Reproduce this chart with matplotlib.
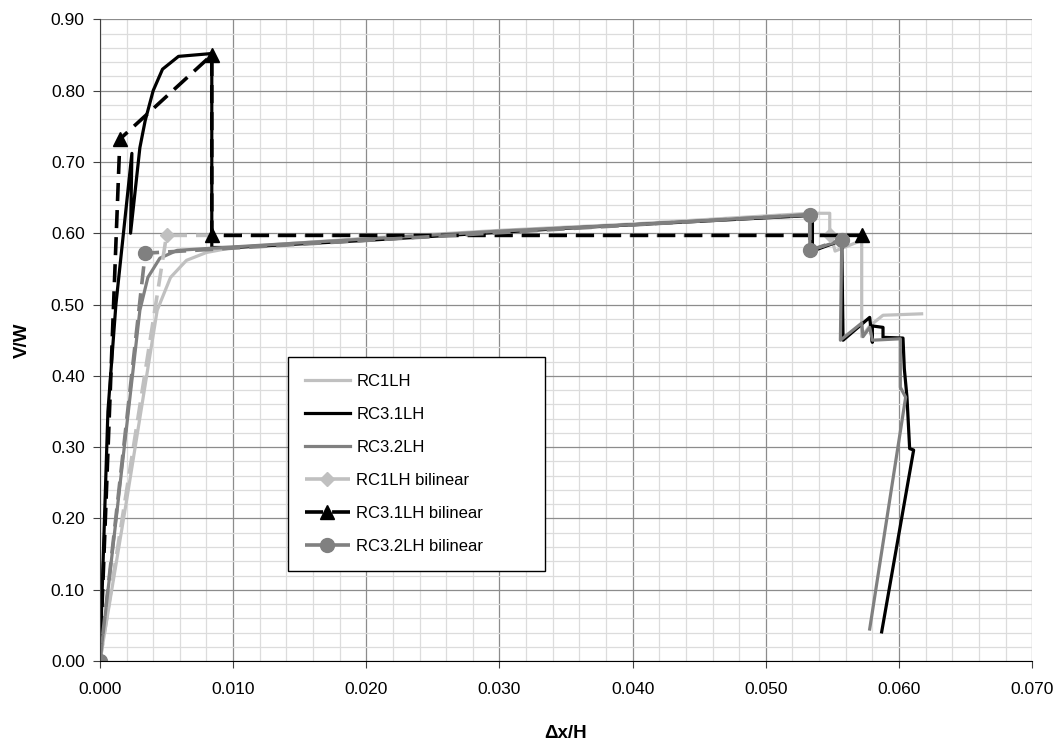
import numpy as np
import matplotlib
matplotlib.use("Agg")
import matplotlib.pyplot as plt
from matplotlib.ticker import MultipleLocator, FormatStrFormatter

plt.rcParams["font.family"] = ["Liberation Sans", "DejaVu Sans"]

# =========================
# data
# =========================
rc1_x = [0.0, 0.0020, 0.0043, 0.0053, 0.0065, 0.0080, 0.0100, 0.0200, 0.0300,
         0.0400, 0.0533, 0.0548, 0.0548, 0.0552, 0.0572, 0.0572, 0.0578,
         0.0588, 0.0617]
rc1_y = [0.0, 0.225, 0.492, 0.538, 0.562, 0.573, 0.580, 0.593, 0.604,
         0.613, 0.628, 0.628, 0.604, 0.575, 0.590, 0.455, 0.470,
         0.485, 0.487]

rc31_x = [0.0, 0.0006, 0.0012, 0.0024, 0.0023, 0.0030, 0.0034, 0.0040, 0.0047,
          0.0059, 0.0084, 0.0084, 0.0100, 0.0200, 0.0350, 0.0535, 0.0535,
          0.0557, 0.0558, 0.0578, 0.0580, 0.0580, 0.0588, 0.0588, 0.0603,
          0.0604, 0.0606, 0.0608, 0.0611, 0.0587]
rc31_y = [0.0, 0.350, 0.500, 0.712, 0.600, 0.720, 0.758, 0.800, 0.830,
          0.848, 0.852, 0.580, 0.580, 0.590, 0.607, 0.625, 0.575,
          0.590, 0.450, 0.482, 0.447, 0.470, 0.468, 0.454, 0.453,
          0.410, 0.370, 0.298, 0.296, 0.041]

rc32_x = [0.0, 0.0030, 0.0036, 0.0045, 0.0058, 0.0084, 0.0200, 0.0300, 0.0400,
          0.0533, 0.0533, 0.0557, 0.0556, 0.0572, 0.0573, 0.0578, 0.0580,
          0.0601, 0.0601, 0.0605, 0.0578]
rc32_y = [0.0, 0.492, 0.538, 0.565, 0.576, 0.579, 0.592, 0.603, 0.612,
          0.626, 0.576, 0.590, 0.450, 0.474, 0.455, 0.468, 0.450,
          0.452, 0.384, 0.370, 0.045]

rc1_bl_x = [0.0, 0.0050, 0.0548]
rc1_bl_y = [0.0, 0.597, 0.597]

rc31_bl_x = [0.0, 0.0015, 0.0084, 0.0084, 0.0572]
rc31_bl_y = [0.0, 0.732, 0.850, 0.597, 0.597]

rc32_bl_x = [0.0, 0.0034, 0.0533, 0.0533, 0.0557]
rc32_bl_y = [0.0, 0.572, 0.626, 0.576, 0.591]

LIGHT = "#c0c0c0"
DARK = "#000000"
MID = "#808080"

# =========================
# figure
# =========================
fig = plt.figure(figsize=(10.63, 7.42), dpi=100)
ax = fig.add_axes([0.094, 0.109, 0.877, 0.865])

ax.plot(rc1_x, rc1_y, color=LIGHT, lw=2.3, label="RC1LH")
ax.plot(rc31_x, rc31_y, color=DARK, lw=2.3, label="RC3.1LH")
ax.plot(rc32_x, rc32_y, color=MID, lw=2.3, label="RC3.2LH")

dash = (0, (5, 2.5))
ax.plot(rc1_bl_x, rc1_bl_y, color=LIGHT, lw=2.6, linestyle=dash,
        marker="D", markersize=7, label="RC1LH bilinear")
ax.plot(rc31_bl_x, rc31_bl_y, color=DARK, lw=2.6, linestyle=dash,
        marker="^", markersize=10, label="RC3.1LH bilinear")
ax.plot(rc32_bl_x, rc32_bl_y, color=MID, lw=2.6, linestyle=dash,
        marker="o", markersize=10, label="RC3.2LH bilinear")

ax.set_xlim(0, 0.070)
ax.set_ylim(0, 0.90)
ax.xaxis.set_major_locator(MultipleLocator(0.010))
ax.xaxis.set_minor_locator(MultipleLocator(0.002))
ax.yaxis.set_major_locator(MultipleLocator(0.10))
ax.yaxis.set_minor_locator(MultipleLocator(0.02))
ax.xaxis.set_major_formatter(FormatStrFormatter("%.3f"))
ax.yaxis.set_major_formatter(FormatStrFormatter("%.2f"))

ax.grid(True, which="major", color="#8c8c8c", lw=0.9)
ax.grid(True, which="minor", color="#dcdcdc", lw=0.9)
ax.set_axisbelow(True)

for s in ["top", "right"]:
    ax.spines[s].set_visible(False)
ax.spines["left"].set_color("#404040")
ax.spines["bottom"].set_color("black")
ax.tick_params(which="major", direction="out", length=5, labelsize=12.5,
               color="#404040")
ax.tick_params(axis="x", which="major", pad=10)
ax.tick_params(axis="y", which="major", pad=6)
ax.tick_params(which="minor", length=0)

ax.set_xlabel("Δx/H", fontsize=13.5, fontweight="bold", labelpad=20)
ax.set_ylabel("V/W", fontsize=13.5, fontweight="bold", labelpad=14)

leg = ax.legend(loc="upper left", bbox_to_anchor=(0.2017, 0.1495, 0.2758, 0.324),
                mode="expand", fontsize=12, frameon=True, fancybox=False,
                edgecolor="black", framealpha=1, handlelength=2.7,
                handletextpad=0.4, borderpad=1.0, borderaxespad=0,
                labelspacing=1.08)
leg.get_frame().set_linewidth(1.0)

fig.savefig("out.png", dpi=100)
